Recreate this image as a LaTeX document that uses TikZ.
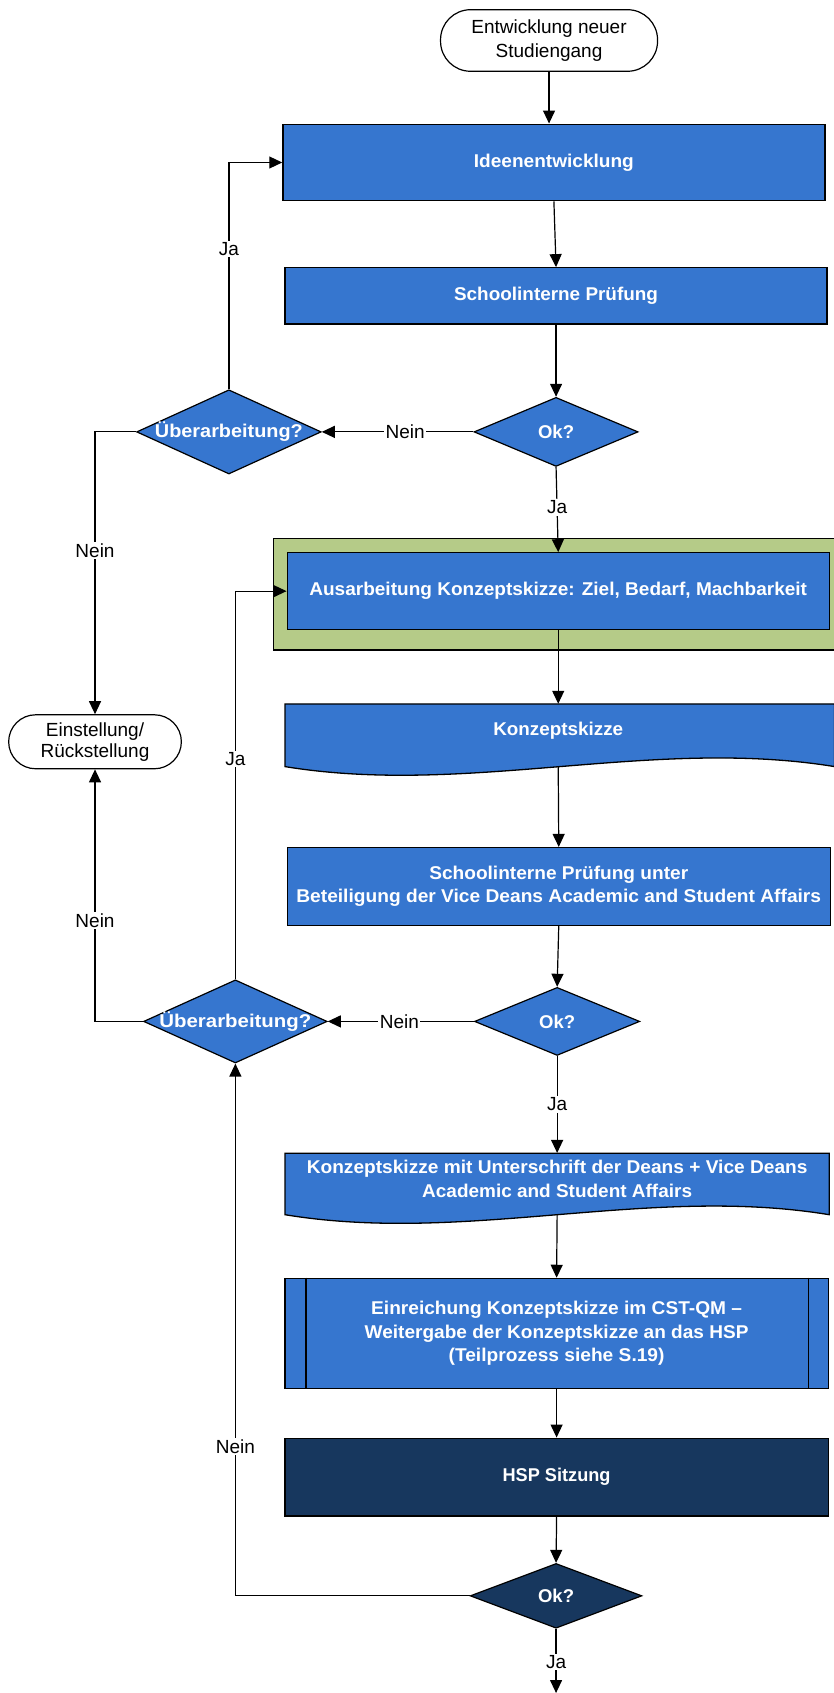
\documentclass[tikz,border=0pt]{standalone}
\usepackage{fontspec}
\setmainfont{Liberation Sans}
\usetikzlibrary{arrows.meta,shapes.geometric}
\definecolor{fcblue}{RGB}{54,118,207}
\definecolor{fcnavy}{RGB}{23,55,94}
\definecolor{fcgreen}{RGB}{181,203,136}
\newcommand\fl[2]{\resizebox{#1pt}{\height}{#2}}
\begin{document}
\begin{tikzpicture}[x=1.0803pt,y=-1.0803pt,
  box/.style={rectangle,draw=black,line width=1.3pt,fill=fcblue,text=white,
    font=\fontsize{18.5}{23.5}\selectfont\bfseries,align=center,inner sep=0pt},
  navybox/.style={box,fill=fcnavy},
  dia/.style={diamond,draw=black,line width=1.2pt,fill=fcblue,inner sep=0pt,text=white,
    font=\fontsize{18.5}{23.5}\selectfont\bfseries},
  navydia/.style={dia,fill=fcnavy},
  term/.style={rectangle,draw=black,line width=1.2pt,fill=white,text=black,
    font=\fontsize{19}{23.5}\selectfont,align=center,inner sep=0pt},
  btxt/.style={text=white,font=\fontsize{18.5}{23.5}\selectfont\bfseries,align=center,inner sep=0pt},
  conn/.style={draw=black,line width=1.2pt,-{Triangle[length=13pt,width=12pt]}},
  lbl/.style={fill=white,inner sep=1.5pt,text=black,font=\fontsize{19}{22}\selectfont},
  docshape/.style={draw=black,line width=1.3pt,fill=fcblue},
]
\useasboundingbox (0,0) rectangle (772,1568);

% group (green)
\node[rectangle,draw=black,line width=1.3pt,fill=fcgreen,minimum width=565pt,minimum height=111.3pt,inner sep=0pt] (grp) at (514.5,550.5) {};

% terminators
\node[term,rounded corners=30pt,minimum width=217.1pt,minimum height=61.6pt] (start) at (508.5,37.5) {Entwicklung neuer\\Studiengang};
\node[term,rounded corners=27pt,minimum width=172.8pt,minimum height=54pt,font=\fontsize{19}{20.7}\selectfont] (einst) at (88,687) {Einstellung/\\Rückstellung};

% process boxes
\node[box,minimum width=542.3pt,minimum height=76.7pt] (ideen) at (513,150.5) {\fl{160}{Ideenentwicklung}};
\node[box,minimum width=542.3pt,minimum height=56.2pt] (sch1) at (515,274) {\fl{204}{Schoolinterne Prüfung}};
\node[box,minimum width=542.3pt,minimum height=76.7pt] (ausarb) at (517,547.5) {\fl{498}{Ausarbeitung Konzeptskizze: Ziel, Bedarf, Machbarkeit}};
\node[box,minimum width=543.4pt,minimum height=77.8pt] (sch2) at (517.5,821) {\fl{259}{Schoolinterne Prüfung unter}\\\fl{525}{Beteiligung der Vice Deans Academic and Student Affairs}};
\node[box,minimum width=543.4pt,minimum height=110.2pt] (einr) at (515.5,1235) {\fl{371}{Einreichung Konzeptskizze im CST-QM –}\\\fl{384}{Weitergabe der Konzeptskizze an das HSP}\\\fl{216}{(Teilprozess siehe S.19)}};
\draw[black,line width=1.2pt] ([xshift=21.6pt]einr.north west) -- ([xshift=21.6pt]einr.south west);
\draw[black,line width=1.2pt] ([xshift=-20.5pt]einr.north east) -- ([xshift=-20.5pt]einr.south east);
\node[navybox,minimum width=543.4pt,minimum height=77.8pt] (hsp) at (515.5,1368) {\fl{108}{HSP Sitzung}};

% document shapes
\draw[docshape] (264,652) -- (773,652) -- (773,710) .. controls (603.3,682.3) and (433.7,737.7) .. (264,710) -- cycle;
\node[rectangle,inner sep=0pt,minimum width=500pt,minimum height=62.7pt] (k1) at (517,681) {};
\node[btxt] (k1t) at (517,677) {\fl{130}{Konzeptskizze}};

\draw[docshape] (264,1068) -- (768,1068) -- (768,1125) .. controls (600,1097.3) and (432,1152.7) .. (264,1125) -- cycle;
\node[rectangle,inner sep=0pt,minimum width=500pt,minimum height=61.6pt] (k2) at (516,1096.5) {};
\node[btxt] (k2t) at (516,1092) {\fl{501}{Konzeptskizze mit Unterschrift der Deans + Vice Deans}\\\fl{270}{Academic and Student Affairs}};

% decisions
\node[dia,minimum width=164.2pt,minimum height=69.1pt] (ok1) at (515,400) {\fl{36}{Ok?}};
\node[dia,minimum width=184.7pt,minimum height=84.3pt,label={[btxt]center:\fl{148}{Überarbeitung?}}] (ueb1) at (212,400) {};
\node[dia,minimum width=165.3pt,minimum height=68.1pt] (ok2) at (516,946) {\fl{36}{Ok?}};
\node[dia,minimum width=183.7pt,minimum height=83.2pt,label={[btxt]center:\fl{152}{Überarbeitung?}}] (ueb2) at (218,946) {};
\node[navydia,minimum width=171.8pt,minimum height=64.8pt] (ok3) at (515,1478) {\fl{36}{Ok?}};

\coordinate (endpt) at (515,1568);

% connectors
\draw[conn] (start.south) -- (start.south |- ideen.north);
\draw[conn] (ideen.south) -- (sch1.north);
\draw[conn] (sch1.south) -- (ok1.north);
\draw[conn] (ok1.west) -- node[lbl,pos=0.45] {Nein} (ueb1.east);
\draw[conn] (ueb1.north) |- node[lbl,pos=0.31] {Ja} (ideen.west);
\draw[conn] (ueb1.west) -| node[lbl,pos=0.71] {Nein} (einst.north);
\draw[conn] (ok1.south) -- node[lbl,pos=0.475] {Ja} (ausarb.north);
\draw[conn] (ausarb.south) -- (k1.north);
\draw[conn] (k1.south) -- (sch2.north);
\draw[conn] (sch2.south) -- (ok2.north);
\draw[conn] (ok2.west) -- node[lbl,pos=0.51] {Nein} (ueb2.east);
\draw[conn] (ueb2.north) |- node[lbl,pos=0.284] {Ja} (ausarb.west);
\draw[conn] (ueb2.west) -| node[lbl,pos=0.70] {Nein} (einst.south);
\draw[conn] (ok2.south) -- node[lbl,pos=0.5] {Ja} (k2.north);
\draw[conn] (k2.south) -- (einr.north);
\draw[conn] (einr.south) -- (hsp.north);
\draw[conn] (hsp.south) -- (ok3.north);
\draw[conn] (ok3.west) -| node[lbl,pos=0.64] {Nein} (ueb2.south);
\draw[conn] (ok3.south) -- node[lbl,pos=0.52] {Ja} (endpt);
\end{tikzpicture}
\end{document}
